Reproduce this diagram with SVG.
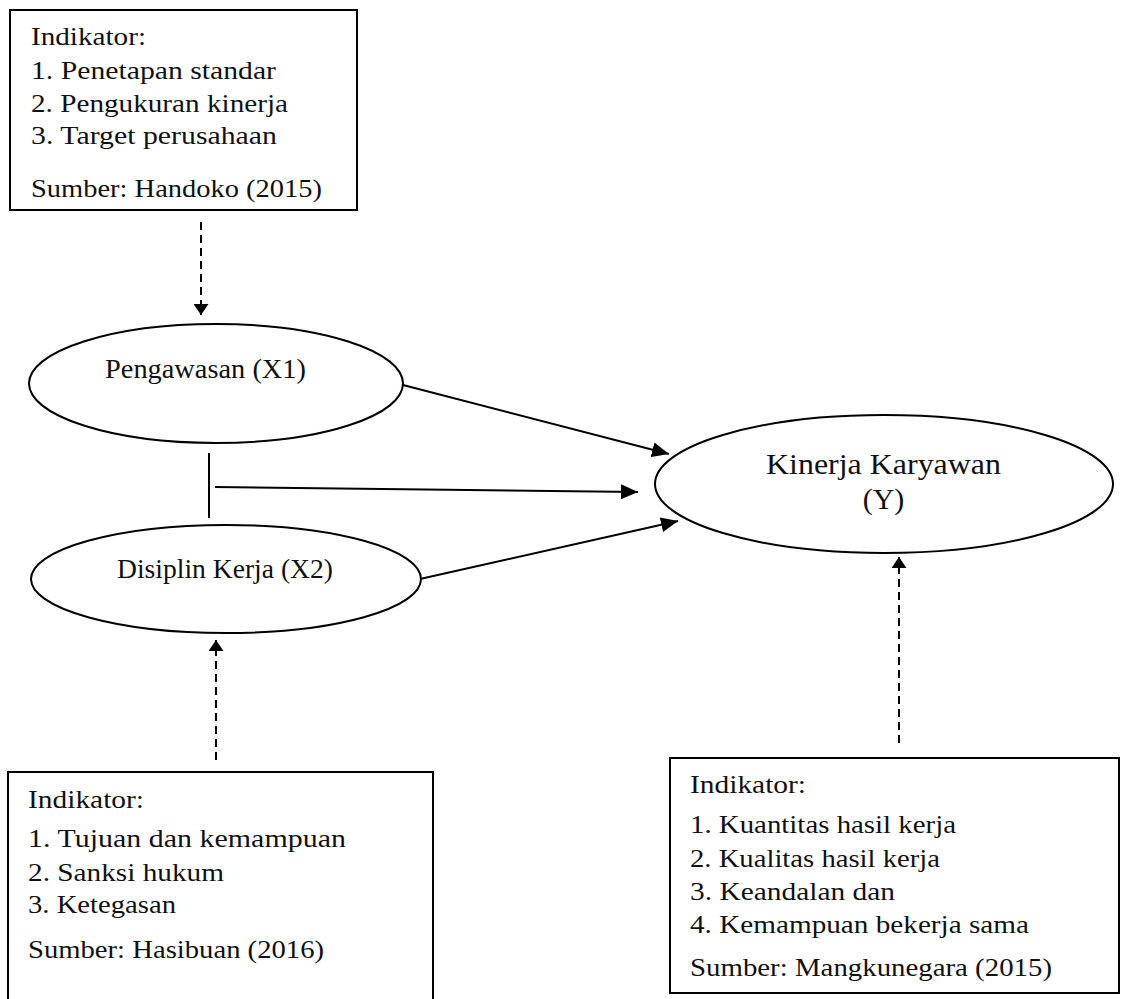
<svg xmlns="http://www.w3.org/2000/svg" width="1121" height="999" viewBox="0 0 1121 999">
<style>
.box{fill:#fff;stroke:#000;stroke-width:2}
.ell{fill:#fff;stroke:#000;stroke-width:2}
.t{font-family:"Liberation Serif","Times New Roman",serif;font-size:26px;fill:#111}
.c{font-family:"Liberation Serif","Times New Roman",serif;font-size:27px;fill:#111;text-anchor:middle}
.k{font-family:"Liberation Serif","Times New Roman",serif;font-size:30px;fill:#111;text-anchor:middle}
.ln{stroke:#000;stroke-width:2;fill:none}
.dash{stroke:#000;stroke-width:2;fill:none;stroke-dasharray:8 5}
</style>
<defs>
<marker id="ah" markerUnits="userSpaceOnUse" markerWidth="17" markerHeight="15" viewBox="0 0 17 15" refX="17" refY="7.5" orient="auto">
<path d="M0,0 L17,7.5 L0,15 z" fill="#000"/>
</marker>
<marker id="dh" markerUnits="userSpaceOnUse" markerWidth="11" markerHeight="15" viewBox="0 0 11 15" refX="11" refY="7.5" orient="auto">
<path d="M0,0 L11,7.5 L0,15 z" fill="#000"/>
</marker>
</defs>

<g id="box-x1">
<rect class="box" x="10" y="10" width="347" height="200"/>
<text class="t" x="31" y="45" textLength="115" lengthAdjust="spacingAndGlyphs">Indikator:</text>
<text class="t" x="31" y="79" textLength="245" lengthAdjust="spacingAndGlyphs">1. Penetapan standar</text>
<text class="t" x="31" y="112" textLength="257" lengthAdjust="spacingAndGlyphs">2. Pengukuran kinerja</text>
<text class="t" x="31" y="144" textLength="246" lengthAdjust="spacingAndGlyphs">3. Target perusahaan</text>
<text class="t" x="31" y="197" textLength="291" lengthAdjust="spacingAndGlyphs">Sumber: Handoko (2015)</text>
</g>

<g id="node-x1">
<ellipse class="ell" cx="216" cy="383.5" rx="187" ry="59.5"/>
<text class="c" x="205.5" y="378" textLength="201" lengthAdjust="spacingAndGlyphs">Pengawasan (X1)</text>
</g>

<g id="node-x2">
<ellipse class="ell" cx="226" cy="579" rx="195" ry="54"/>
<text class="c" x="225" y="578" textLength="216" lengthAdjust="spacingAndGlyphs">Disiplin Kerja (X2)</text>
</g>

<g id="node-y">
<ellipse class="ell" cx="884" cy="484" rx="229" ry="69"/>
<text class="k" x="883.5" y="474" textLength="235" lengthAdjust="spacingAndGlyphs">Kinerja Karyawan</text>
<text class="k" x="883.5" y="509">(Y)</text>
</g>

<g id="box-x2">
<path class="box" d="M433,1000 L433,772 L8,772 L8,1000"/>
<text class="t" x="28" y="808" textLength="116" lengthAdjust="spacingAndGlyphs">Indikator:</text>
<text class="t" x="28" y="847" textLength="318" lengthAdjust="spacingAndGlyphs">1. Tujuan dan kemampuan</text>
<text class="t" x="28" y="881" textLength="196" lengthAdjust="spacingAndGlyphs">2. Sanksi hukum</text>
<text class="t" x="28" y="913" textLength="148" lengthAdjust="spacingAndGlyphs">3. Ketegasan</text>
<text class="t" x="28" y="958" textLength="296" lengthAdjust="spacingAndGlyphs">Sumber: Hasibuan (2016)</text>
</g>

<g id="box-y">
<rect class="box" x="670" y="758" width="449" height="235"/>
<text class="t" x="690" y="793" textLength="116" lengthAdjust="spacingAndGlyphs">Indikator:</text>
<text class="t" x="690" y="833" textLength="266" lengthAdjust="spacingAndGlyphs">1. Kuantitas hasil kerja</text>
<text class="t" x="690" y="867" textLength="250" lengthAdjust="spacingAndGlyphs">2. Kualitas hasil kerja</text>
<text class="t" x="690" y="900" textLength="205" lengthAdjust="spacingAndGlyphs">3. Keandalan dan</text>
<text class="t" x="690" y="933" textLength="339" lengthAdjust="spacingAndGlyphs">4. Kemampuan bekerja sama</text>
<text class="t" x="690" y="976" textLength="362" lengthAdjust="spacingAndGlyphs">Sumber: Mangkunegara (2015)</text>
</g>

<g id="connectors">
<line class="dash" x1="201" y1="222" x2="201" y2="315" marker-end="url(#dh)"/>
<line class="dash" x1="216" y1="760" x2="216" y2="640" marker-end="url(#dh)"/>
<line class="dash" x1="899" y1="743" x2="899" y2="557" marker-end="url(#dh)"/>
<line class="ln" x1="403" y1="385" x2="669" y2="454" marker-end="url(#ah)"/>
<line class="ln" x1="215" y1="487" x2="638" y2="492" marker-end="url(#ah)"/>
<line class="ln" x1="420" y1="579" x2="678" y2="521" marker-end="url(#ah)"/>
<line class="ln" x1="209" y1="453" x2="209" y2="518"/>
</g>
</svg>
